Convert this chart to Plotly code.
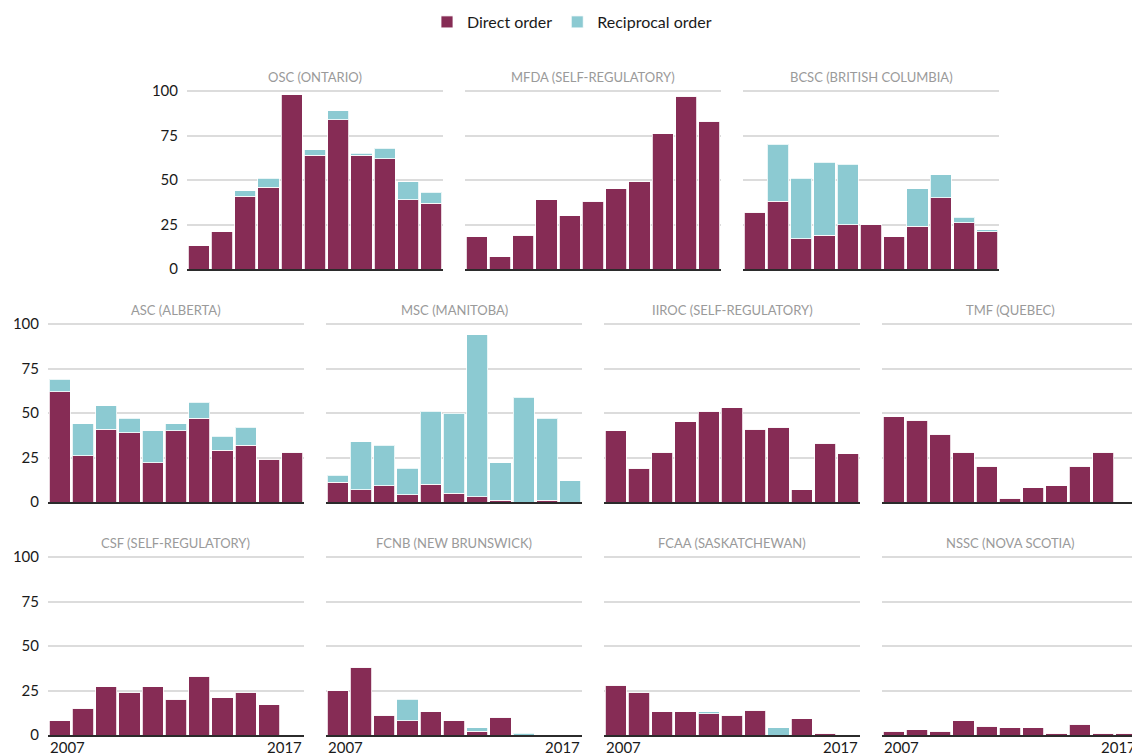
import plotly.graph_objects as go

years = list(range(2007, 2018))

regulators = [
    "OSC (ONTARIO)", "MFDA (SELF-REGULATORY)", "BCSC (BRITISH COLUMBIA)",
    "ASC (ALBERTA)", "MSC (MANITOBA)", "IIROC (SELF-REGULATORY)", "TMF (QUEBEC)",
    "CSF (SELF-REGULATORY)", "FCNB (NEW BRUNSWICK)", "FCAA (SASKATCHEWAN)", "NSSC (NOVA SCOTIA)",
]

# Direct orders per year 2007-2017
osc_direct   = [13, 21, 41, 46, 98, 64, 84, 64, 62, 39, 37]
mfda_direct  = [18, 7, 19, 39, 30, 38, 45, 49, 76, 97, 83]
bcsc_direct  = [32, 38, 17, 19, 25, 25, 18, 24, 40, 26, 21]
asc_direct   = [62, 26, 41, 39, 22, 40, 47, 29, 32, 24, 28]
msc_direct   = [11, 7, 9, 4, 10, 5, 3, 1, 0, 1, 0]
iiroc_direct = [40, 19, 28, 45, 51, 53, 41, 42, 7, 33, 27]
tmf_direct   = [48, 46, 38, 28, 20, 2, 8, 9, 20, 28, 0]
csf_direct   = [8, 15, 27, 24, 27, 20, 33, 21, 24, 17, 0]
fcnb_direct  = [25, 38, 11, 8, 13, 8, 2, 10, 0, 0, 0]
fcaa_direct  = [28, 24, 13, 13, 12, 11, 14, 0, 9, 1, 0]
nssc_direct  = [2, 3, 2, 8, 5, 4, 4, 1, 6, 1, 1]

# Reciprocal orders per year 2007-2017
osc_recip   = [0, 0, 3, 5, 0, 3, 5, 1, 6, 10, 6]
mfda_recip  = [0, 0, 0, 0, 0, 0, 0, 0, 0, 0, 0]
bcsc_recip  = [0, 32, 34, 41, 34, 0, 0, 21, 13, 3, 1]
asc_recip   = [7, 18, 13, 8, 18, 4, 9, 8, 10, 0, 0]
msc_recip   = [4, 27, 23, 15, 41, 45, 91, 21, 59, 46, 12]
iiroc_recip = [0, 0, 0, 0, 0, 0, 0, 0, 0, 0, 0]
tmf_recip   = [0, 0, 0, 0, 0, 0, 0, 0, 0, 0, 0]
csf_recip   = [0, 0, 0, 0, 0, 0, 0, 0, 0, 0, 0]
fcnb_recip  = [0, 0, 0, 12, 0, 0, 2, 0, 1, 0, 0]
fcaa_recip  = [0, 0, 0, 0, 1, 0, 0, 4, 0, 0, 0]
nssc_recip  = [0, 0, 0, 0, 0, 0, 0, 0, 0, 0, 0]

direct = [osc_direct, mfda_direct, bcsc_direct, asc_direct, msc_direct, iiroc_direct,
          tmf_direct, csf_direct, fcnb_direct, fcaa_direct, nssc_direct]
recip = [osc_recip, mfda_recip, bcsc_recip, asc_recip, msc_recip, iiroc_recip,
         tmf_recip, csf_recip, fcnb_recip, fcaa_recip, nssc_recip]

y_ticks = [0, 25, 50, 75, 100]
x_tick_labels = ["2007", "2017"]

# layout geometry (page pixels); page body has an 8px margin
W, H = 1140, 754
OFF = 8
panel_w = 256
step_x = 278
left0 = 48
row_top = [90, 323, 556]
row_bottom = [269, 502, 735]
positions = [(0, 0.5), (0, 1.5), (0, 2.5),
             (1, 0), (1, 1), (1, 2), (1, 3),
             (2, 0), (2, 1), (2, 2), (2, 3)]


def px(p):
    return (p - OFF) / W


def py(p):
    return 1 - (p - OFF) / H


DIRECT_C = "#862c55"
RECIP_C = "#8ccad2"
FONT = "Lato"
TEXT_C = "#1a1a1a"

fig = go.Figure()
annotations = []

for i, name in enumerate(regulators):
    r, c = positions[i]
    x0 = left0 + c * step_x
    x1 = x0 + panel_w
    dom_x = [px(x0), px(x1)]
    dom_y = [py(row_bottom[r]), py(row_top[r])]
    ax = "" if i == 0 else str(i + 1)
    xa, ya = "x" + ax, "y" + ax
    fig.add_trace(go.Bar(
        x=years, y=direct[i], name="Direct order", marker_color=DIRECT_C,
        marker_line=dict(color="rgba(255,255,255,0.8)", width=1),
        xaxis=xa, yaxis=ya, showlegend=(i == 0), legendgroup="d",
    ))
    fig.add_trace(go.Bar(
        x=years, y=recip[i], name="Reciprocal order", marker_color=RECIP_C,
        marker_line=dict(color="rgba(255,255,255,0.8)", width=1),
        xaxis=xa, yaxis=ya, showlegend=(i == 0), legendgroup="r",
    ))
    show_y = (c == 0 or (r == 0 and c == 0.5))
    show_x = (r == 2)
    fig.layout["xaxis" + ax] = dict(
        domain=dom_x, anchor=ya, range=[2006.5, 2017.5],
        showgrid=False, zeroline=False, showline=True,
        linecolor="#2b2b2b", linewidth=1.5, ticks="",
        showticklabels=False, automargin=False, fixedrange=True,
    )
    fig.layout["yaxis" + ax] = dict(
        domain=dom_y, anchor=xa, range=[0, 100.6],
        tickvals=y_ticks, showgrid=True, gridcolor="#dcdcdc", gridwidth=1.5,
        zeroline=False, showline=False, ticks="",
        showticklabels=show_y, ticklabelstandoff=8, automargin=False,
        tickfont=dict(family=FONT, size=15, color=TEXT_C),
        fixedrange=True,
    )
    annotations.append(dict(
        text=name, xref="paper", yref="paper",
        x=px((x0 + x1) / 2), y=py(row_top[r] - 13),
        xanchor="center", yanchor="middle", showarrow=False,
        font=dict(family=FONT, size=13, color="#9a9a9a"),
    ))
    if show_x:
        # first / last year labels, aligned to the axis ends
        annotations.append(dict(
            text=x_tick_labels[0], xref=xa, yref="paper",
            x=years[0] - 0.5, y=py(736), xanchor="left", yanchor="top",
            showarrow=False, font=dict(family=FONT, size=15, color=TEXT_C),
        ))
        annotations.append(dict(
            text=x_tick_labels[1], xref=xa, yref="paper",
            x=years[-1] + 0.5, y=py(736), xanchor="right", yanchor="top",
            showarrow=False, font=dict(family=FONT, size=15, color=TEXT_C),
        ))

fig.update_layout(
    width=W, height=H, barmode="stack", bargap=0.09,
    plot_bgcolor="white", paper_bgcolor="white",
    margin=dict(l=0, r=0, t=0, b=0, autoexpand=False),
    annotations=annotations,
    legend=dict(orientation="h", x=px(572), xanchor="center", xref="container",
                y=py(22), yanchor="middle", yref="container",
                font=dict(family=FONT, size=16, color=TEXT_C), traceorder="normal"),
    font=dict(family=FONT),
)

fig.write_html("out.html")
